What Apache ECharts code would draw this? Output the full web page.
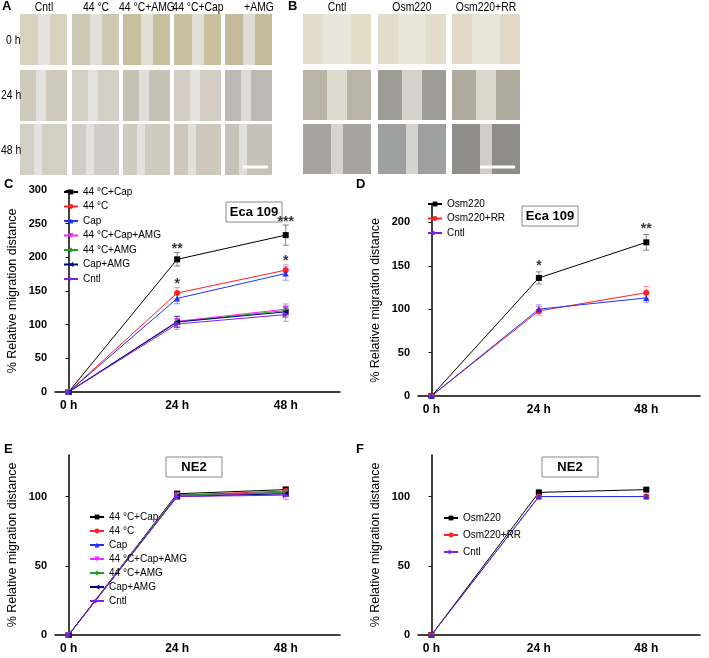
<!DOCTYPE html>
<html><head><meta charset="utf-8">
<script src="https://cdn.jsdelivr.net/npm/echarts@6/dist/echarts.min.js"></script>
<style>body{margin:0;background:#fff}#main{width:709px;height:658px}</style>
</head><body><div id="main"></div>
<script>
var hours = [0, 24, 48];
var hourLabels = ['0 h', '24 h', '48 h'];

var namesC = ['44 °C+Cap', '44 °C', 'Cap', '44 °C+Cap+AMG', '44 °C+AMG', 'Cap+AMG', 'Cntl'];
var colorsC = ['#000000', '#ff2020', '#2030ff', '#ff20ff', '#20a020', '#000080', '#8020e0'];
var valuesC = [[0, 197, 233], [0, 147, 181], [0, 139, 176], [0, 105, 123], [0, 104, 121], [0, 104, 119], [0, 101, 115]];
var errC = [[0, 10, 15], [0, 8, 8], [0, 8, 10], [0, 8, 8], [0, 8, 8], [0, 8, 8], [0, 8, 10]];
var starsC = [[24, 197, '**', 212], [24, 147, '*', 160], [48, 233, '***', 253], [48, 181, '*', 195]];

var namesD = ['Osm220', 'Osm220+RR', 'Cntl'];
var colorsD = ['#000000', '#ff2020', '#2030ff'];
var valuesD = [[0, 136, 177], [0, 98, 119], [0, 100, 113]];
var errD = [[0, 7, 9], [0, 5, 7], [0, 5, 5]];
var starsD = [[24, 136, '*', 150], [48, 177, '**', 192]];

var valuesE = [[0, 102, 105], [0, 101, 104], [0, 101, 103], [0, 101, 102], [0, 101, 103], [0, 100, 102], [0, 100, 101]];
var errE = [[0, 2, 2], [0, 2, 2], [0, 2, 2], [0, 2, 2], [0, 2, 2], [0, 2, 2], [0, 2, 3]];

var valuesF = [[0, 103, 105], [0, 100, 100], [0, 100, 100]];
var errF = [[0, 1, 1], [0, 1, 1], [0, 1, 1]];

var tri = 'path://M0,-10L10,8L-10,8Z';
var symbolsC = ['rect', 'circle', tri, tri, 'diamond', tri, tri];
var rotC = [0, 0, 0, 180, 0, 90, -90];

var chart = echarts.init(document.getElementById('main'));
var FONT = 'Liberation Sans';

var grids = [
  {left: 55, top: 190, width: 285, height: 202},
  {left: 418, top: 205, width: 282, height: 191},
  {left: 55, top: 455, width: 285, height: 180},
  {left: 418, top: 455, width: 282, height: 180}
];
var yMax = [300, 220, 130, 130];
var yInt = [50, 50, 50, 50];

function xAxis(i) {
  return {gridIndex: i, type: 'value', min: -3, max: 60, interval: 24,
    axisLine: {lineStyle: {color: '#000', width: 1.5}}, axisTick: {show: false}, splitLine: {show: false},
    axisLabel: {fontFamily: FONT, fontWeight: 'bold', fontSize: 12, color: '#000',
      customValues: hours, formatter: function (v) { return hourLabels[hours.indexOf(v)] || ''; }}};
}
function yAxis(i) {
  return {gridIndex: i, type: 'value', min: 0, max: yMax[i], interval: yInt[i],
    name: '% Relative migration distance', nameLocation: 'middle', nameGap: 36,
    nameTextStyle: {fontFamily: FONT, fontSize: 12.5, color: '#000'},
    axisLine: {show: true, lineStyle: {color: '#000', width: 1.5}},
    axisTick: {show: true, length: 3, lineStyle: {color: '#000'}}, splitLine: {show: false},
    axisLabel: {fontFamily: FONT, fontWeight: 'bold', fontSize: 11, color: '#000',
      showMaxLabel: i === 0}};
}

var series = [];
function addSet(gi, names, colors, values, errs, syms, rots) {
  names.forEach(function (n, k) {
    var data = hours.map(function (h, j) { return [h, values[k][j]]; });
    series.push({type: 'line', name: n, xAxisIndex: gi, yAxisIndex: gi, data: data,
      symbol: syms[k], symbolSize: 6, symbolRotate: rots[k], color: colors[k],
      lineStyle: {width: 1}, z: 3});
    var edata = hours.map(function (h, j) { return [h, values[k][j], errs[k][j]]; });
    series.push({type: 'custom', xAxisIndex: gi, yAxisIndex: gi, data: edata, silent: true, z: 2,
      renderItem: function (p, api) {
        var x = api.value(0), y = api.value(1), e = api.value(2);
        if (!e) return;
        var a = api.coord([x, y + e]), b = api.coord([x, y - e]);
        var st = {stroke: colors[k], lineWidth: 0.8, opacity: 0.6};
        return {type: 'group', children: [
          {type: 'line', shape: {x1: a[0], y1: a[1], x2: b[0], y2: b[1]}, style: st},
          {type: 'line', shape: {x1: a[0] - 3, y1: a[1], x2: a[0] + 3, y2: a[1]}, style: st},
          {type: 'line', shape: {x1: b[0] - 3, y1: b[1], x2: b[0] + 3, y2: b[1]}, style: st}]};
      }});
  });
}
addSet(0, namesC, colorsC, valuesC, errC, symbolsC, rotC);
addSet(1, namesD, colorsD, valuesD, errD, ['rect', 'circle', tri], [0, 0, 0]);
addSet(2, namesC, colorsC, valuesE, errE, symbolsC, rotC);
addSet(3, namesD, colorsD, valuesF, errF, ['rect', 'circle', tri], [0, 0, 0]);

function addStars(gi, stars) {
  series.push({type: 'scatter', xAxisIndex: gi, yAxisIndex: gi, symbolSize: 0, silent: true,
    data: stars.map(function (s) { return {value: [s[0], s[3]], label: {formatter: s[2]}}; }),
    label: {show: true, position: 'inside', fontFamily: FONT, fontWeight: 'bold', fontSize: 14, color: '#000'}});
}
addStars(0, starsC);
addStars(1, starsD);

function legend(left, top, names, gap) {
  return {left: left, top: top, orient: 'vertical', data: names, itemWidth: 14, itemHeight: 6, itemGap: gap,
    textStyle: {fontFamily: FONT, fontSize: 10, color: '#000'}, selectedMode: false};
}

var g = [];
function txt(x, y, t, size, bold) {
  g.push({type: 'text', left: x, top: y, style: {text: t, font: (bold ? 'bold ' : '') + size + 'px ' + FONT, fill: '#000'}});
}
// condensed header text via horizontal scaling
function ntxt(x, y, t, align) {
  g.push({type: 'text', x: x, y: y, scaleX: 0.8, style: {text: t, font: '13px ' + FONT, fill: '#000', align: align || 'center', verticalAlign: 'middle'}});
}
function boxTitle(x, y, t) {
  g.push({type: 'rect', shape: {x: x, y: y, width: 56, height: 20}, style: {fill: '#fff', stroke: '#888', lineWidth: 1}});
  g.push({type: 'text', x: x + 28, y: y + 10, style: {text: t, font: 'bold 13px ' + FONT, fill: '#000', align: 'center', verticalAlign: 'middle'}});
}
// micrograph placeholders
var colA = [20, 72, 123, 174, 225], colB = [303, 378, 452], rows = [14, 70, 124];
var tonesA = [['#d9d2bf', '#cdc7b4', '#c8bf9e', '#c9c0a0', '#c3bb9c'], ['#cfcabb', '#d2cfc4', '#c6c2b6', '#d6ccc6', '#bdbab4'], ['#d2cfc5', '#cfcdc5', '#cfcbbe', '#cdc8b9', '#c6c2b9']];
var tonesB = [['#e3ddca', '#e3dccb', '#e0d8c5'], ['#b9b4a6', '#9d9c95', '#b0aa9c'], ['#a6a49d', '#9e9f9f', '#8f8d87']];
rows.forEach(function (ry, r) {
  colA.forEach(function (cx, c) {
    g.push({type: 'rect', shape: {x: cx, y: ry, width: 47, height: 51}, style: {fill: tonesA[r][c]}});
    g.push({type: 'rect', shape: {x: cx + 18 - r * 2, y: ry, width: 12 - r * 2, height: 51}, style: {fill: '#e6e6e4', opacity: 0.8}});
  });
  colB.forEach(function (cx, c) {
    g.push({type: 'rect', shape: {x: cx, y: ry, width: 68, height: 50}, style: {fill: tonesB[r][c]}});
    g.push({type: 'rect', shape: {x: cx + 20 + r * 4, y: ry, width: 28 - r * 8, height: 50}, style: {fill: '#ece9e2', opacity: 0.7}});
  });
});
g.push({type: 'line', shape: {x1: 243, y1: 167, x2: 268, y2: 167}, style: {stroke: '#fff', lineWidth: 3}});
g.push({type: 'line', shape: {x1: 480, y1: 167, x2: 515, y2: 167}, style: {stroke: '#fff', lineWidth: 3}});
['Cntl', '44 °C', '44 °C+AMG', '44 °C+Cap', '+AMG'].forEach(function (t, i) {
  ntxt(colA[i] + 24 + (i === 4 ? 10 : 0), 7, t);
});
['Cntl', 'Osm220', 'Osm220+RR'].forEach(function (t, i) {
  ntxt(colB[i] + 34, 7, t);
});
ntxt(6, 40, '0 h', 'left'); ntxt(1, 95, '24 h', 'left'); ntxt(1, 150, '48 h', 'left');
txt(2, 0, 'A', 13, true); txt(288, 0, 'B', 13, true);
txt(4, 178, 'C', 13, true); txt(356, 178, 'D', 13, true);
txt(4, 443, 'E', 13, true); txt(356, 443, 'F', 13, true);
boxTitle(226, 202, 'Eca 109');
boxTitle(522, 206, 'Eca 109');
boxTitle(166, 457, 'NE2');
boxTitle(542, 457, 'NE2');

chart.setOption({
  animation: false,
  grid: grids,
  xAxis: [0, 1, 2, 3].map(xAxis),
  yAxis: [0, 1, 2, 3].map(yAxis),
  legend: [legend(58, 182, namesC, 4.5), legend(422, 194, namesD, 4.5), legend(84, 507, namesC, 4), legend(438, 508, namesD, 7)],
  series: series,
  graphic: g
});
</script></body></html>
